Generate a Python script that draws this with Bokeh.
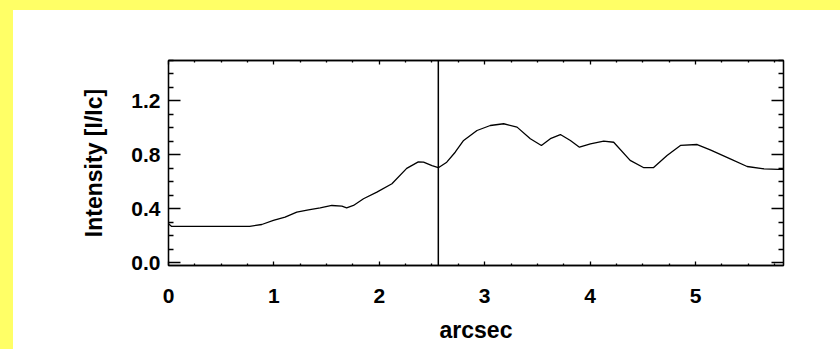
from bokeh.plotting import figure
from bokeh.models import Span, FixedTicker, LinearAxis, Range1d, Spacer, PrintfTickFormatter
from bokeh.layouts import column, row
from bokeh.embed import file_html
from bokeh.resources import INLINE

# Intensity profile along the slit (position in arcsec, intensity normalised to continuum)
arcsec = [0.0, 0.03, 0.1, 0.3, 0.5, 0.77, 0.885, 0.995, 1.106, 1.217, 1.328, 1.439,
          1.55, 1.645, 1.69, 1.755, 1.85, 1.977, 2.12, 2.26, 2.37, 2.42, 2.5, 2.56,
          2.64, 2.72, 2.80, 2.927, 3.053, 3.18, 3.307, 3.433, 3.538, 3.623, 3.718,
          3.813, 3.899, 4.003, 4.129, 4.224, 4.38, 4.51, 4.60, 4.73, 4.857, 5.016,
          5.14, 5.33, 5.49, 5.65, 5.79, 5.83]
intensity = [0.29, 0.27, 0.27, 0.27, 0.27, 0.27, 0.284, 0.314, 0.338, 0.376, 0.393, 0.408,
             0.425, 0.42, 0.408, 0.425, 0.475, 0.524, 0.586, 0.70, 0.748, 0.746, 0.72, 0.705,
             0.746, 0.82, 0.907, 0.981, 1.018, 1.031, 1.006, 0.92, 0.87, 0.92, 0.951,
             0.907, 0.857, 0.882, 0.902, 0.894, 0.759, 0.705, 0.705, 0.796, 0.87, 0.877,
             0.838, 0.771, 0.714, 0.697, 0.692, 0.692]

# Marked slit position
cursor_arcsec = 2.56

# Axis ticks
x_major = [0, 1, 2, 3, 4, 5]
x_minor = [0.25, 0.5, 0.75, 1.25, 1.5, 1.75, 2.25, 2.5, 2.75, 3.25, 3.5, 3.75,
           4.25, 4.5, 4.75, 5.25, 5.5, 5.75]
y_major = [0.0, 0.4, 0.8, 1.2]
y_minor = [0.1, 0.2, 0.3, 0.5, 0.6, 0.7, 0.9, 1.0, 1.1, 1.3, 1.4, 1.5]

FONT = "Liberation Sans"
YELLOW = "#ffff66"

p = figure(width=827, height=339, output_backend="svg", toolbar_location=None,
           x_range=Range1d(0, 5.835), y_range=Range1d(-0.02, 1.5),
           x_axis_location=None, y_axis_location=None,
           min_border_left=155, min_border_right=57,
           min_border_top=50, min_border_bottom=84)
p.background_fill_color = "white"
p.border_fill_color = "white"
p.outline_line_color = "black"
p.outline_line_width = 1.3
p.xgrid.visible = False
p.ygrid.visible = False

xt = FixedTicker(ticks=x_major, minor_ticks=x_minor)
yt = FixedTicker(ticks=y_major, minor_ticks=y_minor)


def style_axis(ax, tick_major, tick_minor):
    ax.axis_line_color = "black"
    ax.axis_line_width = 1.3
    ax.major_tick_line_color = "black"
    ax.minor_tick_line_color = "black"
    ax.major_tick_line_width = 1.3
    ax.minor_tick_line_width = 1.3
    ax.major_tick_in = tick_major
    ax.major_tick_out = 0
    ax.minor_tick_in = tick_minor
    ax.minor_tick_out = 0
    ax.major_label_text_font = FONT
    ax.major_label_text_font_style = "bold"
    ax.major_label_text_font_size = "21px"
    ax.major_label_text_color = "black"
    ax.axis_label_text_font = FONT
    ax.axis_label_text_font_style = "bold"
    ax.axis_label_text_font_size = "23px"
    ax.axis_label_text_color = "black"


bottom = LinearAxis(ticker=xt, axis_label="arcsec")
style_axis(bottom, 4, 2)
bottom.major_label_standoff = 23
bottom.axis_label_standoff = 11
p.add_layout(bottom, "below")

left = LinearAxis(ticker=yt, axis_label="Intensity [I/Ic]",
                  formatter=PrintfTickFormatter(format="%.1f"))
style_axis(left, 12, 5)
left.major_label_standoff = 8
left.axis_label_standoff = 21
p.add_layout(left, "left")

top = LinearAxis(ticker=xt)
style_axis(top, 4, 2)
top.major_label_overrides = {v: "" for v in x_major}
p.add_layout(top, "above")

right = LinearAxis(ticker=yt)
style_axis(right, 12, 5)
right.major_label_overrides = {v: "" for v in y_major}
p.add_layout(right, "right")

p.line(arcsec, intensity, line_color="black", line_width=1.3)
p.add_layout(Span(location=cursor_arcsec, dimension="height",
                  line_color="black", line_width=1.5))

band_top = Spacer(width=840, height=10, styles={"background-color": YELLOW})
band_left = Spacer(width=13, height=339, styles={"background-color": YELLOW})
layout = column(band_top, row(band_left, p, spacing=0), spacing=0)

open("out.html", "w").write(file_html(layout, INLINE))
